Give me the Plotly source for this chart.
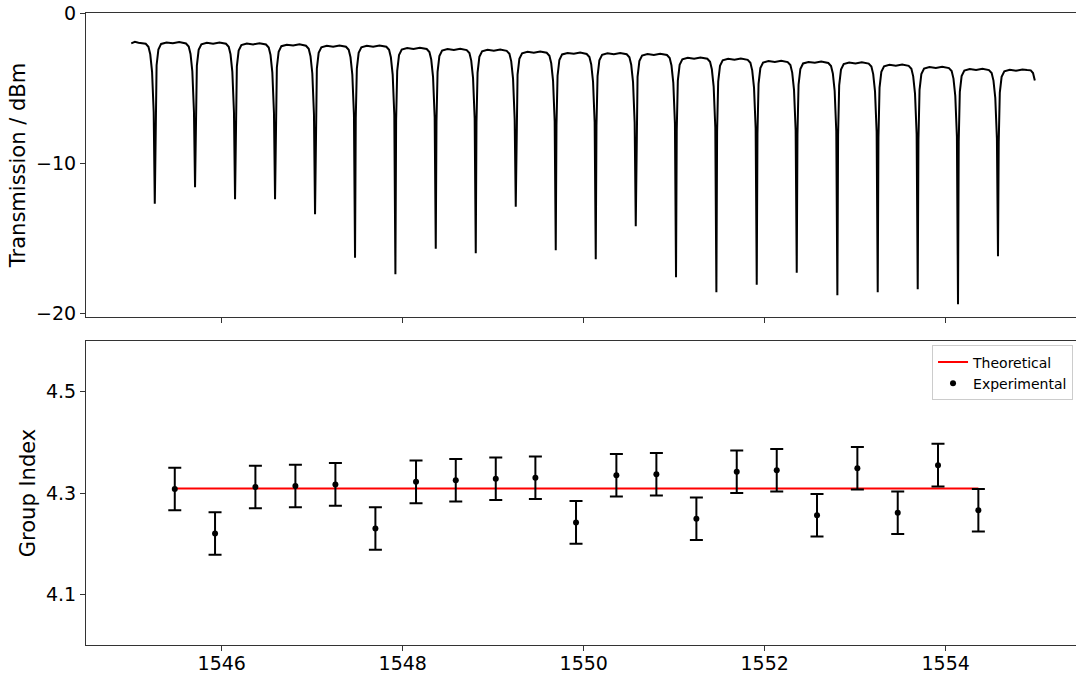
import plotly.graph_objects as go
from plotly.subplots import make_subplots

# ---------------- Top panel: transmission spectrum ----------------
wavelength_nm = [
    1545.000, 1545.040, 1545.080, 1545.120,
    1545.160, 1545.190, 1545.210, 1545.230, 1545.248, 1545.260, 1545.268, 1545.280, 1545.300, 1545.330, 1545.390, 1545.460, 1545.530,
    1545.605, 1545.635, 1545.655, 1545.675, 1545.693, 1545.705, 1545.713, 1545.725, 1545.745, 1545.775, 1545.835, 1545.905, 1545.975,
    1546.047, 1546.077, 1546.097, 1546.117, 1546.135, 1546.147, 1546.155, 1546.167, 1546.187, 1546.217, 1546.277, 1546.347, 1546.417,
    1546.489, 1546.519, 1546.539, 1546.559, 1546.577, 1546.589, 1546.597, 1546.609, 1546.629, 1546.659, 1546.719, 1546.789, 1546.859,
    1546.931, 1546.961, 1546.981, 1547.001, 1547.019, 1547.031, 1547.039, 1547.051, 1547.071, 1547.101, 1547.161, 1547.231, 1547.301,
    1547.373, 1547.403, 1547.423, 1547.443, 1547.461, 1547.473, 1547.481, 1547.493, 1547.513, 1547.543, 1547.603, 1547.673, 1547.743,
    1547.819, 1547.849, 1547.869, 1547.889, 1547.907, 1547.919, 1547.927, 1547.939, 1547.959, 1547.989, 1548.049, 1548.119, 1548.189,
    1548.265, 1548.295, 1548.315, 1548.335, 1548.353, 1548.365, 1548.373, 1548.385, 1548.405, 1548.435, 1548.495, 1548.565, 1548.635,
    1548.707, 1548.737, 1548.757, 1548.777, 1548.795, 1548.807, 1548.815, 1548.827, 1548.847, 1548.877, 1548.937, 1549.007, 1549.077,
    1549.149, 1549.179, 1549.199, 1549.219, 1549.237, 1549.249, 1549.257, 1549.269, 1549.289, 1549.319, 1549.379, 1549.449, 1549.519,
    1549.591, 1549.621, 1549.641, 1549.661, 1549.679, 1549.691, 1549.699, 1549.711, 1549.731, 1549.761, 1549.821, 1549.891, 1549.961,
    1550.033, 1550.063, 1550.083, 1550.103, 1550.121, 1550.133, 1550.141, 1550.153, 1550.173, 1550.203, 1550.263, 1550.333, 1550.403,
    1550.475, 1550.505, 1550.525, 1550.545, 1550.563, 1550.575, 1550.583, 1550.595, 1550.615, 1550.645, 1550.705, 1550.775, 1550.845,
    1550.920, 1550.950, 1550.970, 1550.990, 1551.008, 1551.020, 1551.028, 1551.040, 1551.060, 1551.090, 1551.150, 1551.220, 1551.290,
    1551.366, 1551.396, 1551.416, 1551.436, 1551.454, 1551.466, 1551.474, 1551.486, 1551.506, 1551.536, 1551.596, 1551.666, 1551.736,
    1551.812, 1551.842, 1551.862, 1551.882, 1551.900, 1551.912, 1551.920, 1551.932, 1551.952, 1551.982, 1552.042, 1552.112, 1552.182,
    1552.254, 1552.284, 1552.304, 1552.324, 1552.342, 1552.354, 1552.362, 1552.374, 1552.394, 1552.424, 1552.484, 1552.554, 1552.624,
    1552.703, 1552.733, 1552.753, 1552.773, 1552.791, 1552.803, 1552.811, 1552.823, 1552.843, 1552.873, 1552.933, 1553.003, 1553.073,
    1553.149, 1553.179, 1553.199, 1553.219, 1553.237, 1553.249, 1553.257, 1553.269, 1553.289, 1553.319, 1553.379, 1553.449, 1553.519,
    1553.591, 1553.621, 1553.641, 1553.661, 1553.679, 1553.691, 1553.699, 1553.711, 1553.731, 1553.761, 1553.821, 1553.891, 1553.961,
    1554.036, 1554.066, 1554.086, 1554.106, 1554.124, 1554.136, 1554.144, 1554.156, 1554.176, 1554.206, 1554.266, 1554.336, 1554.406,
    1554.478, 1554.508, 1554.528, 1554.548, 1554.566, 1554.578, 1554.586, 1554.598, 1554.618, 1554.648, 1554.708, 1554.778, 1554.848,
    1554.900, 1554.940, 1554.965, 1554.985,
]

transmission_dbm = [
    -2.02, -1.92, -1.98, -2.02,
    -2.05, -2.25, -2.75, -3.90, -6.60, -12.7, -6.78, -3.48, -2.43, -2.06, -1.96, -2.02, -1.94,
    -2.03, -2.23, -2.73, -3.88, -6.58, -11.6, -6.80, -3.50, -2.45, -2.08, -1.98, -2.04, -1.96,
    -2.05, -2.25, -2.75, -3.90, -6.60, -12.4, -6.85, -3.55, -2.50, -2.13, -2.03, -2.09, -2.01,
    -2.10, -2.30, -2.80, -3.95, -6.65, -12.4, -6.93, -3.63, -2.58, -2.21, -2.11, -2.17, -2.09,
    -2.18, -2.38, -2.88, -4.03, -6.73, -13.4, -7.00, -3.70, -2.65, -2.28, -2.18, -2.24, -2.16,
    -2.25, -2.45, -2.95, -4.10, -6.80, -16.3, -7.00, -3.70, -2.65, -2.28, -2.18, -2.24, -2.16,
    -2.25, -2.45, -2.95, -4.10, -6.80, -17.4, -7.15, -3.85, -2.80, -2.43, -2.33, -2.39, -2.31,
    -2.40, -2.60, -3.10, -4.25, -6.95, -15.7, -7.22, -3.92, -2.87, -2.50, -2.40, -2.46, -2.38,
    -2.47, -2.67, -3.17, -4.32, -7.02, -16.0, -7.27, -3.97, -2.92, -2.55, -2.45, -2.51, -2.43,
    -2.52, -2.72, -3.22, -4.37, -7.07, -12.9, -7.40, -4.10, -3.05, -2.68, -2.58, -2.64, -2.56,
    -2.65, -2.85, -3.35, -4.50, -7.20, -15.8, -7.48, -4.18, -3.13, -2.76, -2.66, -2.72, -2.64,
    -2.73, -2.93, -3.43, -4.58, -7.28, -16.4, -7.50, -4.20, -3.15, -2.78, -2.68, -2.74, -2.66,
    -2.75, -2.95, -3.45, -4.60, -7.30, -14.2, -7.55, -4.25, -3.20, -2.83, -2.73, -2.79, -2.71,
    -2.80, -3.00, -3.50, -4.65, -7.35, -17.6, -7.80, -4.50, -3.45, -3.08, -2.98, -3.04, -2.96,
    -3.05, -3.25, -3.75, -4.90, -7.60, -18.6, -7.87, -4.57, -3.52, -3.15, -3.05, -3.11, -3.03,
    -3.12, -3.32, -3.82, -4.97, -7.67, -18.1, -8.02, -4.72, -3.67, -3.30, -3.20, -3.26, -3.18,
    -3.27, -3.47, -3.97, -5.12, -7.82, -17.3, -8.08, -4.78, -3.73, -3.36, -3.26, -3.32, -3.24,
    -3.33, -3.53, -4.03, -5.18, -7.88, -18.8, -8.12, -4.82, -3.77, -3.40, -3.30, -3.36, -3.28,
    -3.37, -3.57, -4.07, -5.22, -7.92, -18.6, -8.27, -4.97, -3.92, -3.55, -3.45, -3.51, -3.43,
    -3.52, -3.72, -4.22, -5.37, -8.07, -18.4, -8.42, -5.12, -4.07, -3.70, -3.60, -3.66, -3.58,
    -3.67, -3.87, -4.37, -5.52, -8.22, -19.4, -8.55, -5.25, -4.20, -3.83, -3.73, -3.79, -3.71,
    -3.80, -4.00, -4.50, -5.65, -8.35, -16.2, -8.60, -5.30, -4.25, -3.88, -3.78, -3.84, -3.76,
    -3.80, -3.82, -4.00, -4.50,
]

# ---------------- Bottom panel: group index ----------------
gi_wavelength = [1545.481, 1545.926, 1546.372, 1546.814, 1547.256, 1547.698, 1548.147,
                 1548.586, 1549.028, 1549.466, 1549.915, 1550.361, 1550.803, 1551.245,
                 1551.691, 1552.133, 1552.578, 1553.024, 1553.470, 1553.915, 1554.361]
gi_experimental = [4.308, 4.220, 4.312, 4.314, 4.317, 4.230, 4.322,
                   4.325, 4.328, 4.330, 4.242, 4.335, 4.337, 4.249,
                   4.342, 4.345, 4.256, 4.349, 4.261, 4.355, 4.266]
gi_error = [0.042] * len(gi_experimental)

theory_wavelength = [1545.481, 1554.361]
theory_group_index = [4.309, 4.309]

# ---------------- Figure ----------------
FONT = "DejaVu Sans"
AXIS_COLOR = "#333333"

fig = make_subplots(rows=2, cols=1, shared_xaxes=True, vertical_spacing=0.038)

fig.add_trace(go.Scatter(x=wavelength_nm, y=transmission_dbm, mode="lines",
                         line=dict(color="black", width=2), showlegend=False),
              row=1, col=1)

fig.add_trace(go.Scatter(x=theory_wavelength, y=theory_group_index, mode="lines",
                         name="Theoretical", line=dict(color="#ff0000", width=2)),
              row=2, col=1)

fig.add_trace(go.Scatter(x=gi_wavelength, y=gi_experimental, mode="markers",
                         name="Experimental",
                         marker=dict(color="black", size=6),
                         error_y=dict(type="data", array=gi_error, visible=True,
                                      color="black", thickness=2, width=6.5)),
              row=2, col=1)

axis_common = dict(showline=True, mirror=True, linecolor=AXIS_COLOR, linewidth=1,
                   ticks="outside", ticklen=5, tickwidth=1, tickcolor=AXIS_COLOR,
                   showgrid=False, zeroline=False, automargin=False,
                   tickfont=dict(family=FONT, size=19, color="black"))

fig.update_xaxes(**axis_common, range=[1544.5, 1555.44],
                 tickvals=[1546, 1548, 1550, 1552, 1554], ticklabelstandoff=-4)
fig.update_xaxes(showticklabels=False, row=1, col=1)

fig.update_yaxes(**axis_common)
fig.update_yaxes(range=[-20.25, 0], tickvals=[0, -10, -20],
                 title=dict(text="Transmission / dBm", font=dict(family=FONT, size=21, color="black"),
                            standoff=4),
                 domain=[0.519, 1.0], row=1, col=1)
fig.update_yaxes(range=[4.0, 4.6], tickvals=[4.1, 4.3, 4.5],
                 title=dict(text="Group Index", font=dict(family=FONT, size=21, color="black"),
                            standoff=4),
                 domain=[0.0, 0.481], row=2, col=1)

fig.update_layout(
    width=1076, height=675,
    margin=dict(l=86, r=0, t=13, b=30),
    paper_bgcolor="white", plot_bgcolor="white",
    font=dict(family=FONT, color="black"),
    legend=dict(x=0.997, y=0.474, xanchor="right", yanchor="top",
                bgcolor="rgba(255,255,255,0.8)", bordercolor="#cccccc", borderwidth=1,
                font=dict(family=FONT, size=14, color="black"),
                tracegroupgap=0, itemwidth=30),
)

fig.write_html("out.html")
